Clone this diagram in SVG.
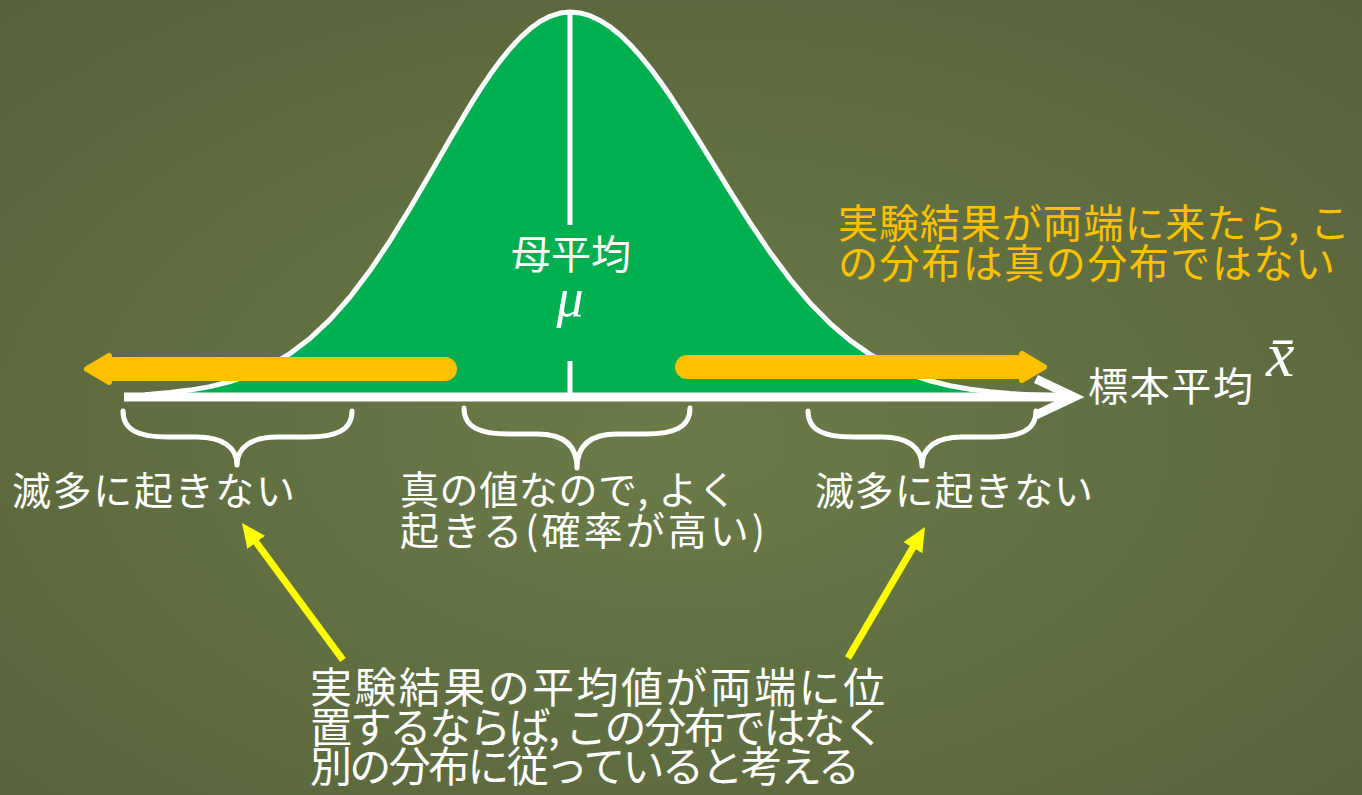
<svg xmlns="http://www.w3.org/2000/svg" width="1362" height="795" viewBox="0 0 1362 795">
<defs>
<radialGradient id="bg" cx="50%" cy="55%" r="75%">
<stop offset="0" stop-color="#6a7b48"/>
<stop offset="1" stop-color="#56623a"/>
</radialGradient>
<marker id="yh" viewBox="0 0 24 22" refX="10" refY="11" markerWidth="24" markerHeight="22" markerUnits="userSpaceOnUse" orient="auto">
<path d="M0,0 L24,11 L0,22 Z" fill="#ffff00"/>
</marker>
<style>
.w{fill:#ffffff;font-family:"Noto Sans CJK JP","Noto Sans CJK SC",sans-serif;}
.o{fill:#ffc000;font-family:"Noto Sans CJK JP","Noto Sans CJK SC",sans-serif;}
.m{fill:#ffffff;font-family:"Liberation Serif",serif;font-style:italic;}
.brace{fill:none;stroke:#ffffff;stroke-width:5;stroke-linecap:round;stroke-linejoin:round;}
.bar{stroke:#ffc000;stroke-width:24;stroke-linecap:round;fill:none;}
.head{fill:#ffc000;stroke:#ffc000;stroke-width:6;stroke-linejoin:round;}
.ya{stroke:#ffff00;stroke-width:7;fill:none;marker-end:url(#yh);}
</style>
</defs>
<rect width="1362" height="795" fill="url(#bg)"/>

<g id="curve">
<path id="bell-fill" fill="#00b050" d="M145,394.4 L150,394.2 L170,392.5 L190,390.1 L210,386.6 L230,381.6 L250,374.8 L270,365.6 L290,353.6 L310,338.4 L330,319.6 L350,297 L370,270.6 L390,240.8 L410,208.2 L430,173.9 L450,139.2 L470,105.6 L480,89.7 L490,74.8 L500,61.1 L510,48.7 L520,37.9 L530,28.8 L540,21.5 L550,16.3 L560,13.1 L570,12 L580,12.9 L590,15.7 L600,20.4 L610,26.8 L620,34.8 L630,44.5 L640,55.5 L650,67.8 L660,81.2 L670,95.5 L690,126.3 L710,158.6 L730,191.1 L750,222.6 L770,252.2 L790,279.1 L810,302.9 L830,323.3 L850,340.4 L870,354.4 L890,365.5 L910,374.2 L930,380.8 L950,385.7 L970,389.3 L990,391.8 L1010,393.6 L1030,394.8 L1050,395.6 L1050,397 L145,397 Z"/>
<path id="bell-line" fill="none" stroke="#ffffff" stroke-width="5" stroke-linejoin="round" d="M145,394.4 L150,394.2 L170,392.5 L190,390.1 L210,386.6 L230,381.6 L250,374.8 L270,365.6 L290,353.6 L310,338.4 L330,319.6 L350,297 L370,270.6 L390,240.8 L410,208.2 L430,173.9 L450,139.2 L470,105.6 L480,89.7 L490,74.8 L500,61.1 L510,48.7 L520,37.9 L530,28.8 L540,21.5 L550,16.3 L560,13.1 L570,12 L580,12.9 L590,15.7 L600,20.4 L610,26.8 L620,34.8 L630,44.5 L640,55.5 L650,67.8 L660,81.2 L670,95.5 L690,126.3 L710,158.6 L730,191.1 L750,222.6 L770,252.2 L790,279.1 L810,302.9 L830,323.3 L850,340.4 L870,354.4 L890,365.5 L910,374.2 L930,380.8 L950,385.7 L970,389.3 L990,391.8 L1010,393.6 L1030,394.8 L1050,395.6"/>
<line x1="570" y1="12" x2="570" y2="225" stroke="#ffffff" stroke-width="5"/>
<line x1="570" y1="361" x2="570" y2="397" stroke="#ffffff" stroke-width="5"/>
</g>

<g id="axis">
<line x1="124" y1="397" x2="1068" y2="397" stroke="#ffffff" stroke-width="9"/>
<polyline points="1036,379 1074,397 1036,415" fill="none" stroke="#ffffff" stroke-width="9"/>
</g>

<g id="connectors">
<line class="bar" x1="112" y1="369" x2="445" y2="369"/>
<polygon class="head" points="87,369 109,356 109,382"/>
<line class="bar" x1="687" y1="367" x2="1022" y2="367"/>
<polygon class="head" points="1044,367 1022,354 1022,380"/>
<line class="ya" x1="343" y1="660" x2="250.3" y2="534.3"/>
<line class="ya" x1="848" y1="658" x2="917.9" y2="539.1"/>
</g>

<g id="braces">
<path class="brace" d="M123,411 C123,430 138,437 168,437 L197,437 C222,437 237,447 237,465 C237,447 252,437 277,437 L307,437 C337,437 352,430 352,411"/>
<path class="brace" d="M464,408 C464,427 479,434 509,434 L537,434 C562,434 577,444 577,468 C577,444 592,434 617,434 L645,434 C675,434 690,427 690,408"/>
<path class="brace" d="M808,411 C808,430 823,437 853,437 L882,437 C907,437 922,447 922,466 C922,447 937,437 962,437 L991,437 C1021,437 1036,430 1036,411"/>
</g>

<g id="label-mu">
<text class="w" x="571" y="269" font-size="40" text-anchor="middle">母平均</text>
<text class="m" x="570" y="316" font-size="54" text-anchor="middle">μ</text>
</g>

<g id="label-xbar">
<text class="w" x="1088" y="401" font-size="40" textLength="165" lengthAdjust="spacing">標本平均</text>
<text class="m" x="1266" y="376" font-size="64">x̄</text>
</g>

<g id="label-left">
<text class="w" x="12" y="505" font-size="39" textLength="283" lengthAdjust="spacing">滅多に起きない</text>
</g>
<g id="label-right">
<text class="w" x="815" y="505" font-size="39" textLength="278" lengthAdjust="spacing">滅多に起きない</text>
</g>
<g id="label-center">
<text class="w" x="400" y="504" font-size="39" textLength="337" lengthAdjust="spacing">真の値なので, よく</text>
<text class="w" x="400" y="545" font-size="39" textLength="365" lengthAdjust="spacing">起きる(確率が高い)</text>
</g>

<g id="note-orange">
<text class="o" x="838" y="238" font-size="40" textLength="512" lengthAdjust="spacing">実験結果が両端に来たら, こ</text>
<text class="o" x="838" y="278" font-size="40" textLength="497" lengthAdjust="spacing">の分布は真の分布ではない</text>
</g>

<g id="note-bottom">
<text class="w" x="310" y="703" font-size="42" textLength="575" lengthAdjust="spacing">実験結果の平均値が両端に位</text>
<text class="w" x="310" y="743" font-size="42" textLength="575" lengthAdjust="spacing">置するならば, この分布ではなく</text>
<text class="w" x="310" y="782" font-size="42" textLength="550" lengthAdjust="spacing">別の分布に従っていると考える</text>
</g>
</svg>
